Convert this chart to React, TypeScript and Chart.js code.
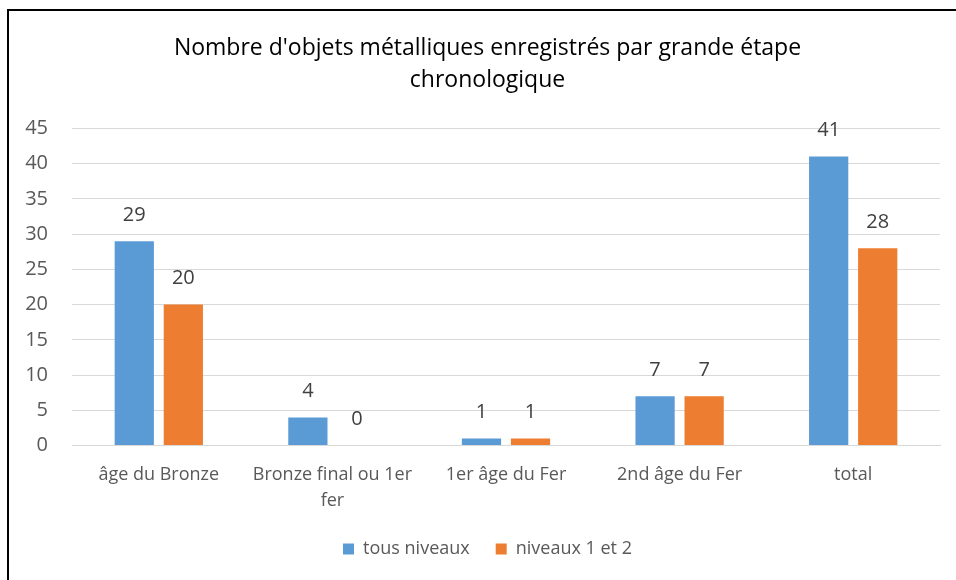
import React, { useEffect, useRef } from "react";
import { Chart, registerables } from "chart.js";

Chart.register(...registerables);

const categories: (string | string[])[] = [
  "âge du Bronze",
  ["Bronze final ou 1er", "fer"],
  "1er âge du Fer",
  "2nd âge du Fer",
  "total",
];
const tousNiveaux = [29, 4, 1, 7, 41];
const niveaux12 = [20, 0, 1, 7, 28];
const titleLines = ["Nombre d'objets métalliques enregistrés par grande étape", "chronologique"];
const seriesNames = ["tous niveaux", "niveaux 1 et 2"];

const FONT = "'Open Sans', 'Liberation Sans', sans-serif";

const valueLabels = {
  id: "valueLabels",
  afterDatasetsDraw(chart: any) {
    const ctx = chart.ctx;
    ctx.save();
    ctx.font = `20px ${FONT}`;
    ctx.fillStyle = "#404040";
    ctx.textAlign = "center";
    ctx.textBaseline = "middle";
    chart.data.datasets.forEach((ds: any, di: number) => {
      const meta = chart.getDatasetMeta(di);
      meta.data.forEach((el: any, i: number) => {
        ctx.fillText(String(ds.data[i]), el.x, el.y - 26);
      });
    });
    ctx.restore();
  },
};

export default function App() {
  const ref = useRef<HTMLCanvasElement>(null);
  useEffect(() => {
    if (!ref.current) return;
    const chart = new Chart(ref.current, {
      type: "bar",
      data: {
        labels: categories,
        datasets: [
          {
            label: seriesNames[0],
            data: tousNiveaux,
            backgroundColor: "#5B9BD5",
            categoryPercentage: 0.565,
            barPercentage: 0.8,
            yAxisID: "y",
          },
          {
            label: seriesNames[1],
            data: niveaux12,
            backgroundColor: "#ED7D31",
            categoryPercentage: 0.565,
            barPercentage: 0.8,
            yAxisID: "y",
          },
        ],
      },
      options: {
        responsive: false,
        animation: false,
        layout: { padding: { left: 0, right: 0, bottom: 18, top: 0 } },
        plugins: {
          title: {
            display: true,
            text: titleLines,
            color: "#000",
            font: { family: FONT, size: 23, weight: "normal", lineHeight: 1.4 },
            padding: { top: 21, bottom: 32 },
          },
          legend: {
            position: "bottom",
            labels: {
              color: "#595959",
              font: { family: FONT, size: 18 },
              boxWidth: 11,
              boxHeight: 11,
              padding: 26,
            },
          },
          tooltip: { enabled: false },
        },
        scales: {
          x: {
            grid: { display: false, drawTicks: false },
            border: { display: true, color: "#d9d9d9", width: 1 },
            ticks: {
              color: "#595959",
              font: { family: FONT, size: 18, lineHeight: 1.4 },
              padding: 17,
              maxRotation: 0,
              autoSkip: false,
            },
            afterFit: (s: any) => {
              s.height = s.height - 16;
              s.paddingLeft = 0;
              s.paddingRight = 0;
            },
          },
          y: {
            min: 0,
            max: 45,
            grid: { color: "#d9d9d9", drawTicks: false },
            border: { display: false },
            ticks: {
              stepSize: 5,
              color: "#595959",
              font: { family: FONT, size: 20 },
              padding: 24,
            },
            afterFit: (s: any) => {
              s.width = 63;
            },
          },
          yRight: {
            type: "linear",
            position: "right",
            display: true,
            grid: { display: false, drawTicks: false },
            border: { display: false },
            ticks: { display: false },
            afterFit: (s: any) => {
              s.width = 26;
            },
          },
        },
      },
      plugins: [valueLabels],
    });
    return () => chart.destroy();
  }, []);

  return (
    <div style={{ position: "fixed", left: 0, top: 0, width: 956, height: 580, overflow: "hidden", background: "#fff" }}>
      <div
        style={{
          position: "absolute",
          left: 7,
          top: 9,
          width: 962,
          height: 600,
          border: "2px solid #000",
          boxSizing: "border-box",
          background: "#fff",
        }}
      >
        <canvas ref={ref} width={957} height={575} style={{ position: "absolute", left: 0, top: 0 }} />
      </div>
    </div>
  );
}
